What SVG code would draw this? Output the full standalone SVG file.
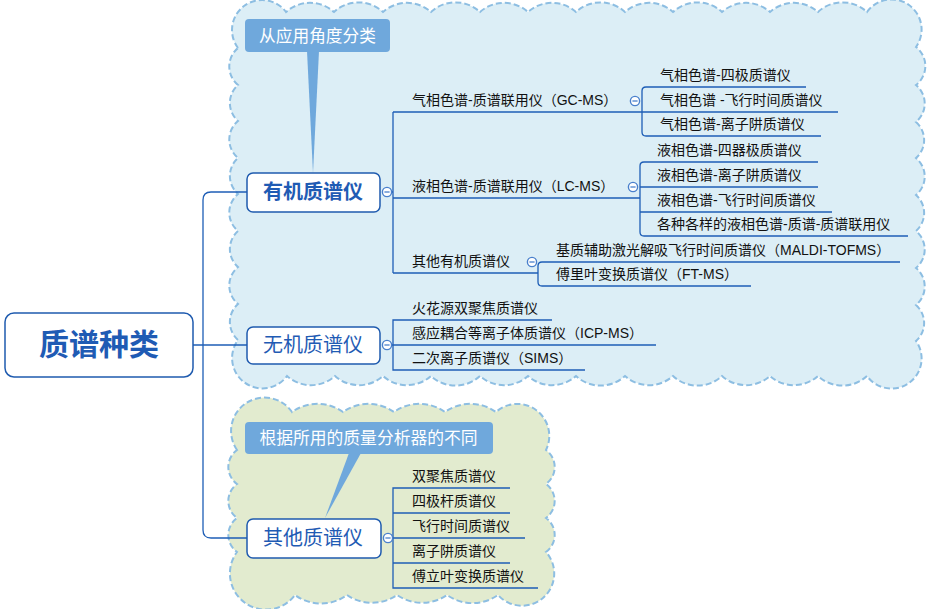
<svg xmlns="http://www.w3.org/2000/svg" width="932" height="609" viewBox="0 0 932 609">
<style>
.cloud{stroke:#8DBEE2;stroke-width:2;stroke-dasharray:6 3;}
.blue{fill:#DCEEF6;}
.green{fill:#E2EBCF;}
.callout{fill:#6FA8DC;}
.ctext{font-family:"Liberation Sans","Noto Sans CJK SC",sans-serif;fill:#fff;text-anchor:middle;}
.box{fill:#fff;stroke:#1F5BAF;stroke-width:1.5;}
.ntext{font-family:"Liberation Sans","Noto Sans CJK SC",sans-serif;fill:#1F5BB4;text-anchor:middle;}
.t{font-family:"Liberation Sans","Noto Sans CJK SC",sans-serif;font-size:14px;fill:#111;}
.ln{fill:none;stroke:#1E5EB6;stroke-width:1.3;}
.tog circle{fill:#fff;stroke:#4A80CC;stroke-width:1.4;}
.tog line{stroke:#4A80CC;stroke-width:1.3;}
</style>
<defs>
<g id="toggle" class="tog"><circle cx="0" cy="0" r="4.6"/><line x1="-2.6" y1="0" x2="2.6" y2="0"/></g>
</defs>

<g id="cloud-organic-inorganic">
<path class="cloud blue" d="M238 48 A30 30 0 0 1 286 12
A36 36 0 0 1 334 12 A36 36 0 0 1 383 12 A36 36 0 0 1 431 12 A36 36 0 0 1 480 12 A36 36 0 0 1 528 12 A36 36 0 0 1 576 12 A36 36 0 0 1 625 12 A36 36 0 0 1 673 12 A36 36 0 0 1 722 12 A36 36 0 0 1 770 12 A36 36 0 0 1 818 12 A36 36 0 0 1 867 12
A30 30 0 0 1 916 47
A24 24 0 0 1 916 85 A24 24 0 0 1 916 122 A24 24 0 0 1 916 158 A24 24 0 0 1 916 195 A24 24 0 0 1 916 231 A24 24 0 0 1 916 268 A24 24 0 0 1 916 305 A24 24 0 0 1 916 341
A30 30 0 0 1 867 376
A36 36 0 0 1 818 376 A36 36 0 0 1 770 376 A36 36 0 0 1 722 376 A36 36 0 0 1 673 376 A36 36 0 0 1 625 376 A36 36 0 0 1 576 376 A36 36 0 0 1 528 376 A36 36 0 0 1 480 376 A36 36 0 0 1 431 376 A36 36 0 0 1 383 376 A36 36 0 0 1 335 376 A36 36 0 0 1 287 376
A30 30 0 0 1 238 340
A24 24 0 0 1 238 304 A24 24 0 0 1 238 267 A24 24 0 0 1 238 231 A24 24 0 0 1 238 194 A24 24 0 0 1 238 158 A24 24 0 0 1 238 121 A24 24 0 0 1 238 85 A24 24 0 0 1 238 48 Z"/>
</g>

<g id="cloud-other">
<path class="cloud green" d="M237 450 A33 33 0 0 1 292 412
A44 44 0 0 1 343 412 A44 44 0 0 1 394 412 A44 44 0 0 1 445 412 A44 44 0 0 1 496 412
A32 32 0 0 1 546 450
A21 21 0 0 1 546 484 A21 21 0 0 1 546 518 A21 21 0 0 1 546 552
A32 32 0 0 1 498 595
A44 44 0 0 1 447 595 A44 44 0 0 1 397 595 A44 44 0 0 1 347 595 A44 44 0 0 1 295 595
A34 34 0 0 1 237 552
A21 21 0 0 1 237 518 A21 21 0 0 1 237 484 A21 21 0 0 1 237 450 Z"/>
</g>

<g id="callout-application">
<rect class="callout" x="245" y="19" width="145" height="33" rx="4"/>
<polygon class="callout" points="307,51 319,51 313,173"/>
<text class="ctext" x="317.5" y="42" font-size="16.7">从应用角度分类</text>
</g>

<g id="callout-analyzer">
<rect class="callout" x="245" y="422" width="248" height="32" rx="4"/>
<polygon class="callout" points="349,453 361,453 325,518"/>
<text class="ctext" x="368.5" y="443.5" font-size="16.8">根据所用的质量分析器的不同</text>
</g>

<g id="connectors">
<path class="ln" d="M193 345 H247"/>
<path class="ln" d="M247 192 H211 Q203 192 203 200 V530 Q203 538 211 538 H247"/>
<path class="ln" d="M391 192 H393"/>
<path class="ln" d="M393 112 V273"/>
<path class="ln" d="M393 112 H838"/>
<path class="ln" d="M393 198 H640"/>
<path class="ln" d="M393 273 H538"/>
<path class="ln" d="M806 87 H646 Q642 87 642 91 V132 Q642 136 646 136 H821"/>
<path class="ln" d="M818 162 H644 Q640 162 640 166 V232 Q640 236 644 236 H908"/>
<path class="ln" d="M640 187 H818"/>
<path class="ln" d="M640 212 H832"/>
<path class="ln" d="M900 262 H542 Q538 262 538 266 V282 Q538 286 542 286 H751"/>
<path class="ln" d="M391 345 H656"/>
<path class="ln" d="M552 320 H393 V370 H585"/>
<path class="ln" d="M392 538 H525"/>
<path class="ln" d="M510 488 H393 V588 H538"/>
<path class="ln" d="M393 513 H510"/>
<path class="ln" d="M393 563 H510"/>
</g>

<g id="node-root">
<rect class="box" x="5" y="313" width="188" height="64" rx="9"/>
<text class="ntext" x="99" y="355" font-size="30" font-weight="bold">质谱种类</text>
</g>

<g id="node-organic">
<rect class="box" x="247" y="173" width="133" height="39" rx="6"/>
<text class="ntext" x="313" y="199" font-size="20" font-weight="bold">有机质谱仪</text>
<use href="#toggle" x="387" y="192"/>
</g>

<g id="node-inorganic">
<rect class="box" x="247" y="327" width="133" height="37" rx="6"/>
<text class="ntext" x="313" y="352" font-size="20">无机质谱仪</text>
<use href="#toggle" x="387" y="345"/>
</g>

<g id="node-other">
<rect class="box" x="247" y="519" width="134" height="39" rx="6"/>
<text class="ntext" x="313" y="545" font-size="20">其他质谱仪</text>
<use href="#toggle" x="388" y="538"/>
</g>

<g id="node-gcms">
<text class="t" x="412" y="105">气相色谱-质谱联用仪（GC-MS）</text>
<use href="#toggle" x="635" y="101"/>
</g>
<g id="node-gc-quad"><text class="t" x="660" y="80">气相色谱-四极质谱仪</text></g>
<g id="node-gc-tof"><text class="t" x="660" y="105">气相色谱 -飞行时间质谱仪</text></g>
<g id="node-gc-trap"><text class="t" x="660" y="129">气相色谱-离子阱质谱仪</text></g>

<g id="node-lcms">
<text class="t" x="412" y="191">液相色谱-质谱联用仪（LC-MS）</text>
<use href="#toggle" x="633" y="187"/>
</g>
<g id="node-lc-quad"><text class="t" x="657" y="155">液相色谱-四器极质谱仪</text></g>
<g id="node-lc-trap"><text class="t" x="657" y="180">液相色谱-离子阱质谱仪</text></g>
<g id="node-lc-tof"><text class="t" x="657" y="205">液相色谱-飞行时间质谱仪</text></g>
<g id="node-lc-various"><text class="t" x="657" y="229">各种各样的液相色谱-质谱-质谱联用仪</text></g>

<g id="node-other-organic">
<text class="t" x="412" y="266">其他有机质谱仪</text>
<use href="#toggle" x="532" y="262"/>
</g>
<g id="node-maldi"><text class="t" x="556" y="255">基质辅助激光解吸飞行时间质谱仪（MALDI-TOFMS）</text></g>
<g id="node-ftms"><text class="t" x="556" y="279">傅里叶变换质谱仪（FT-MS）</text></g>

<g id="node-spark"><text class="t" x="412" y="313">火花源双聚焦质谱仪</text></g>
<g id="node-icpms"><text class="t" x="412" y="338">感应耦合等离子体质谱仪（ICP-MS）</text></g>
<g id="node-sims"><text class="t" x="412" y="363">二次离子质谱仪（SIMS）</text></g>

<g id="node-double-focus"><text class="t" x="412" y="481">双聚焦质谱仪</text></g>
<g id="node-quadrupole"><text class="t" x="412" y="506">四极杆质谱仪</text></g>
<g id="node-tof"><text class="t" x="412" y="531">飞行时间质谱仪</text></g>
<g id="node-iontrap"><text class="t" x="412" y="556">离子阱质谱仪</text></g>
<g id="node-fourier"><text class="t" x="412" y="581">傅立叶变换质谱仪</text></g>
</svg>
